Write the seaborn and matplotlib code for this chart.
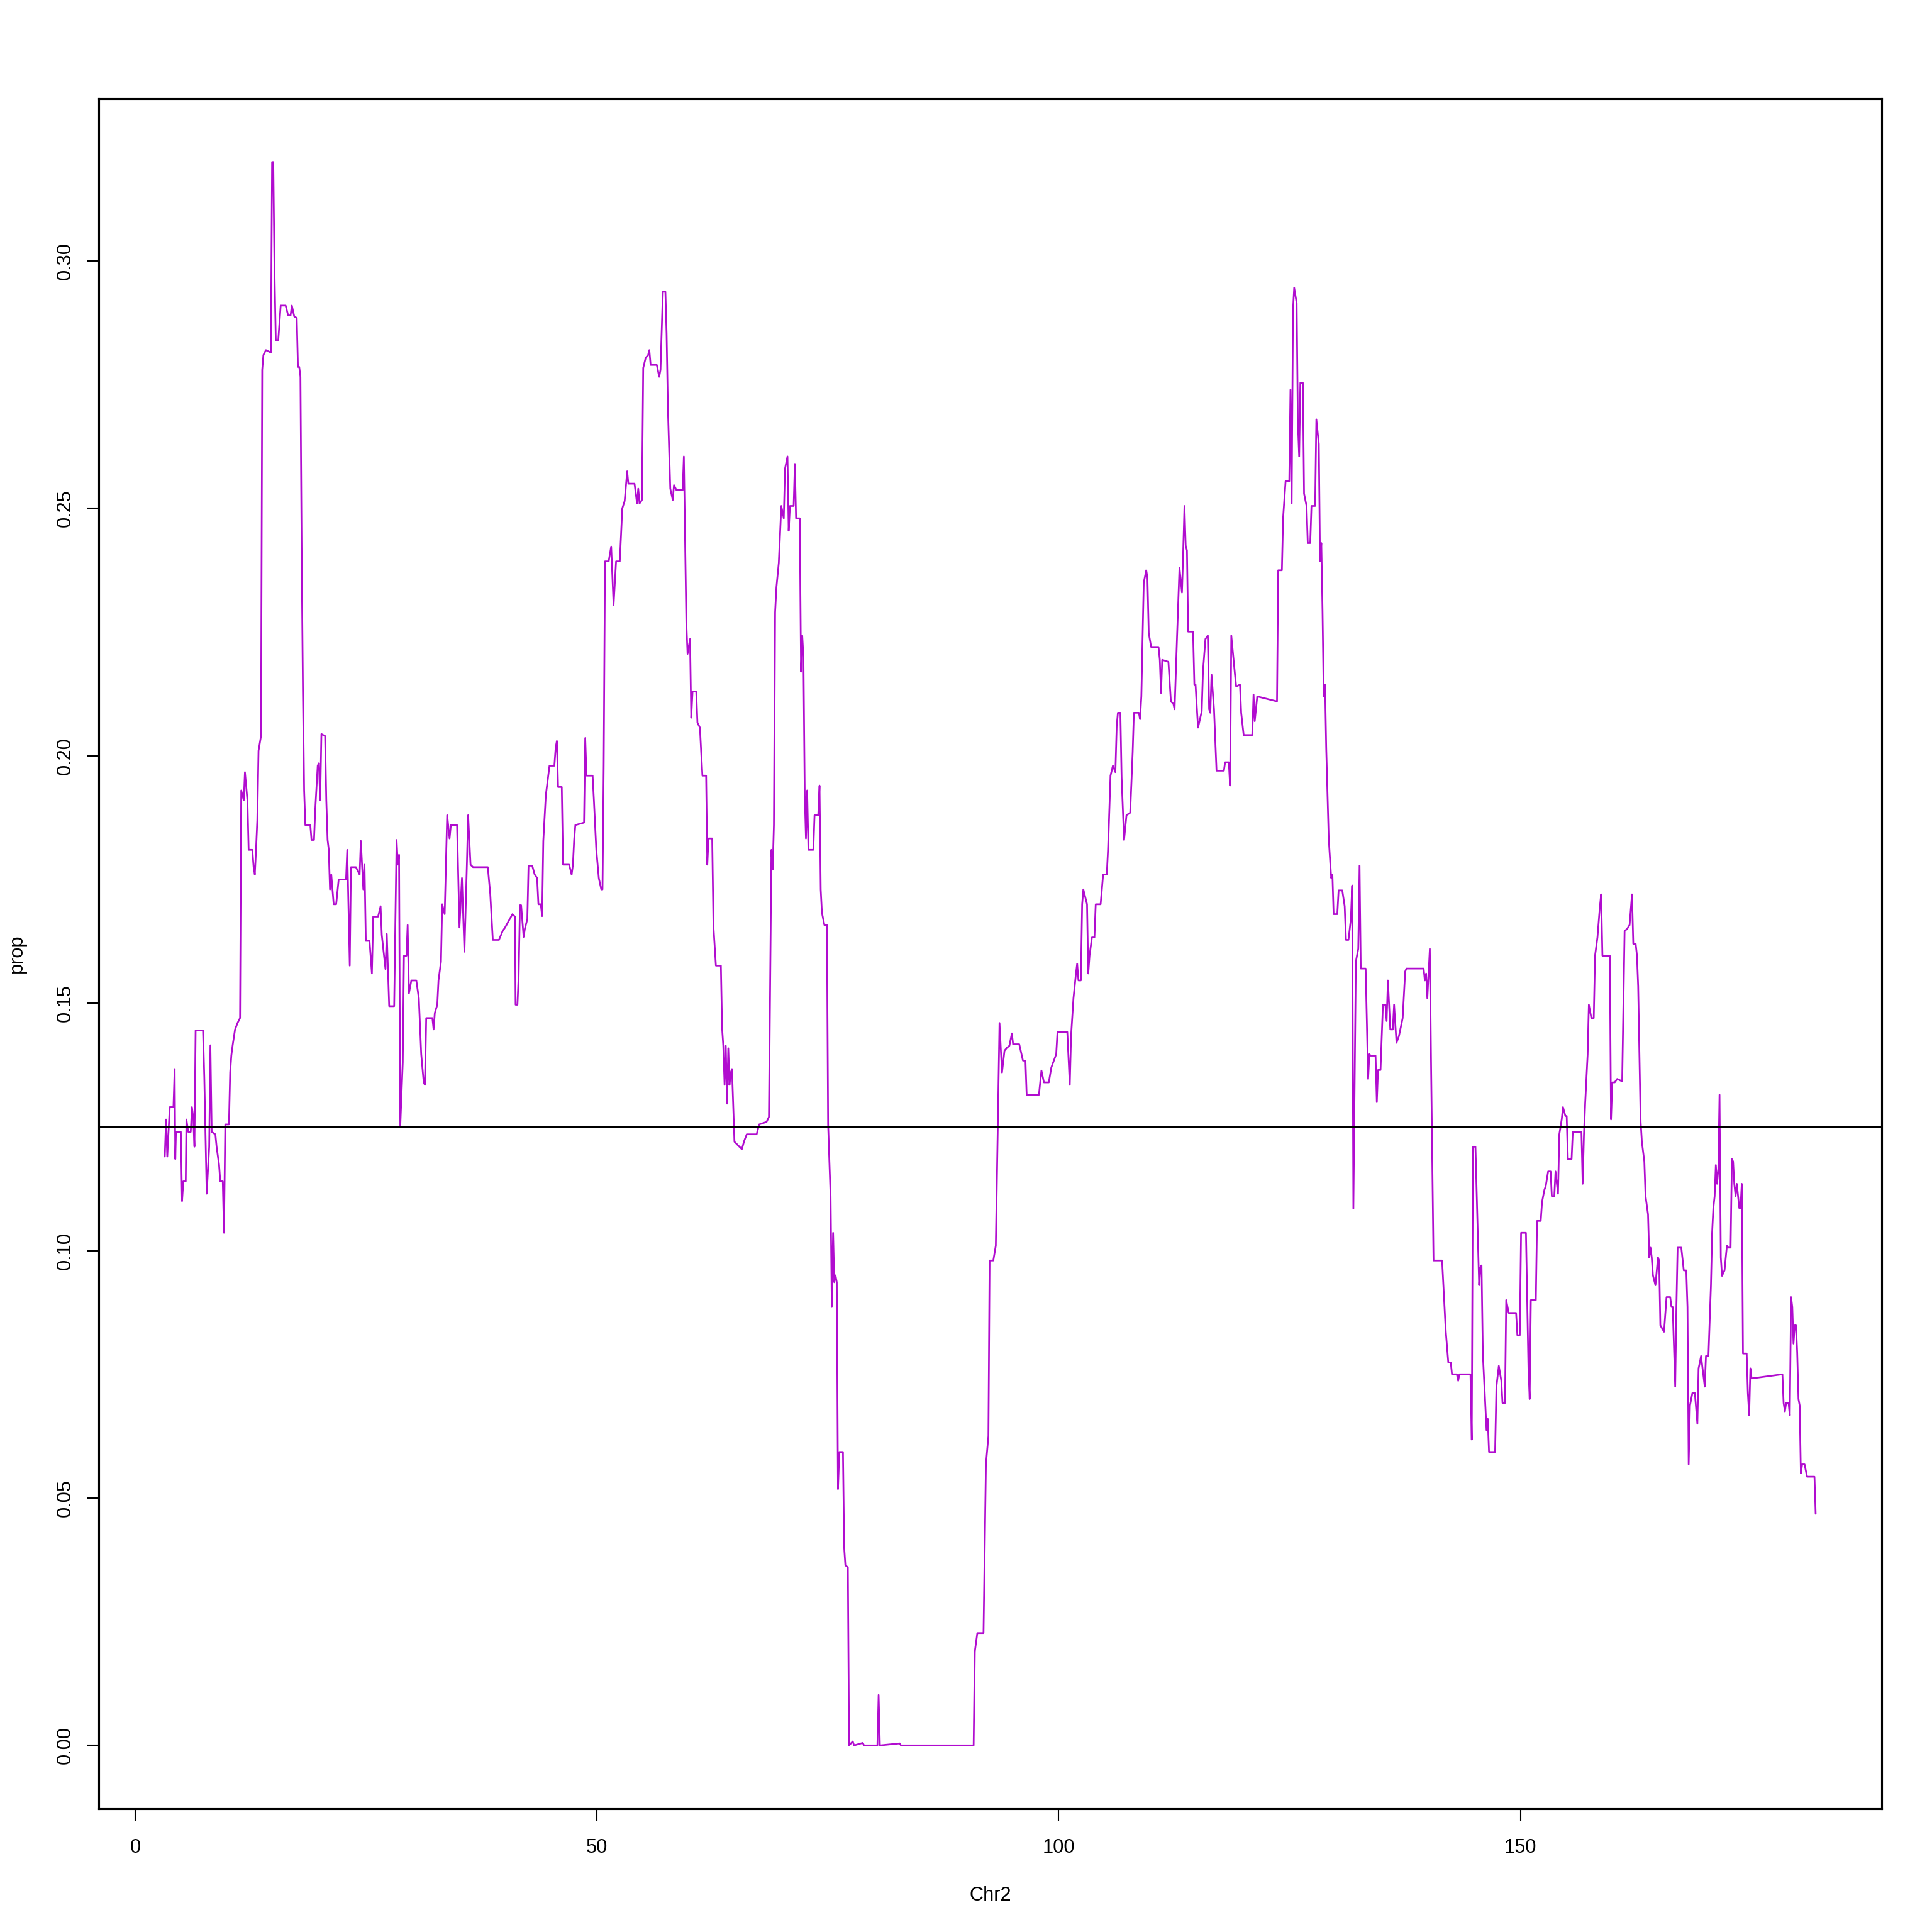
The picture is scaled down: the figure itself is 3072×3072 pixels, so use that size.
import matplotlib
matplotlib.use("Agg")
import matplotlib.pyplot as plt
import seaborn as sns
import pandas as pd

# ---- data: position on Chr2 (Mb) and proportion ----
pos = [
    3.20, 3.34, 3.47, 3.74, 4.14, 4.27, 4.34, 4.41, 4.94, 5.07, 5.21, 5.47, 5.54, 5.74, 6.01, 6.14, 6.28, 6.41, 6.54, 7.34,
    7.48, 7.74, 8.01, 8.14, 8.28, 8.68, 8.81, 9.08, 9.21, 9.48, 9.61, 9.75, 10.15, 10.28, 10.41, 10.55, 10.81, 11.08, 11.35,
    11.48, 11.75, 11.88, 12.15, 12.28, 12.68, 12.82, 12.95, 13.08, 13.22, 13.35, 13.62, 13.75, 13.88, 14.15, 14.69, 14.82,
    14.95, 15.09, 15.22, 15.49, 15.75, 16.29, 16.56, 16.82, 16.96, 17.22, 17.49, 17.62, 17.76, 17.89, 18.02, 18.16, 18.29,
    18.42, 18.96, 19.09, 19.36, 19.49, 19.76, 19.89, 20.03, 20.16, 20.56,
    20.69, 20.83, 20.96, 21.09, 21.23, 21.36, 21.49, 21.76, 22.03, 22.83, 22.96, 23.23, 23.36, 23.90, 24.30, 24.43, 24.70,
    24.83, 24.97, 25.37, 25.63, 25.77, 26.30, 26.57, 26.70, 27.10, 27.24, 27.50, 28.04, 28.30, 28.44, 28.57, 28.70,
    28.97, 29.10, 29.37, 29.50, 29.64, 29.90, 30.44, 30.71, 30.97, 31.24, 31.37, 31.51, 32.18, 32.31, 32.44, 32.71, 32.84,
    33.11, 33.24, 33.51, 33.78, 34.04, 34.18, 34.85, 35.11, 35.38, 35.65, 35.91, 36.05, 36.31, 36.58, 38.18, 38.45, 38.72,
    39.39, 39.79, 40.05, 40.85, 41.12, 41.19, 41.39, 41.52, 41.66, 41.79, 42.06, 42.19, 42.46, 42.59, 42.99, 43.26, 43.52,
    43.66, 43.92, 44.06, 44.19, 44.46, 44.86, 45.39, 45.53, 45.66, 45.79, 46.19, 46.33, 46.99, 47.26, 47.40, 47.53, 47.66,
    48.60, 48.73, 48.87, 49.53, 49.67, 49.93, 50.20, 50.47, 50.60,
    50.73, 50.87, 51.27, 51.54, 51.80, 52.07, 52.47, 52.60, 52.74, 53.00, 53.27, 53.40, 54.07, 54.34, 54.47, 54.61, 54.87,
    55.01, 55.27, 55.54, 55.67, 55.81, 56.48, 56.74, 56.88, 57.14, 57.41, 57.54, 57.68, 57.94, 58.21, 58.34, 58.61, 59.28,
    59.41, 59.55, 59.68, 59.81, 60.08, 60.21, 60.35, 60.75, 60.88, 61.15, 61.42, 61.82, 61.95, 62.08, 62.48, 62.62, 62.88,
    63.42, 63.55, 63.68, 63.82, 63.95, 64.09, 64.22, 64.35, 64.49, 64.62, 64.89, 65.42, 65.69, 65.95, 66.22, 67.29, 67.56,
    68.36, 68.62,
    68.89, 69.03, 69.16, 69.29, 69.43, 69.69, 69.96, 70.23, 70.36, 70.63, 70.76, 70.90, 71.30, 71.43, 71.56, 71.96, 72.10,
    72.23, 72.36, 72.50, 72.63, 72.76, 72.90, 73.43, 73.56, 73.96, 74.10, 74.23, 74.36, 74.63, 74.90, 75.03, 75.30, 75.43,
    75.57, 75.70, 75.83, 75.97, 76.10, 76.24, 76.64, 76.77, 76.90, 77.17, 77.30,
    77.70, 77.84, 78.78, 78.92, 80.37, 80.50, 80.64, 82.78, 82.92, 90.79,
    90.92, 91.19, 91.86, 92.12, 92.39, 92.52, 92.92, 93.19,
    93.59, 93.86, 94.13, 94.39, 94.66, 94.93, 95.06, 95.73, 96.13, 96.40, 96.53, 97.86, 98.13, 98.40, 98.93, 99.20, 99.73,
    99.87, 100.93, 101.20, 101.34, 101.60, 101.87, 102.00, 102.14, 102.40, 102.54, 102.67, 103.07, 103.20, 103.34, 103.60,
    103.87, 104.01, 104.54, 104.81, 105.21, 105.34, 105.61, 105.87, 106.14, 106.28, 106.41, 106.68, 106.81, 107.08, 107.34,
    107.74, 108.01, 108.14, 108.68, 108.81, 108.95, 109.21, 109.48, 109.61, 109.75, 110.01, 110.81, 110.95, 111.08, 111.21,
    111.88, 112.15, 112.42, 112.55, 112.82, 113.08, 113.35, 113.48, 113.62, 113.75, 113.89, 114.02, 114.55, 114.69, 114.82,
    114.95, 115.09, 115.49, 115.62, 115.89, 116.15, 116.29, 116.42, 116.55, 116.82, 117.09, 117.89, 118.02, 118.42, 118.56,
    118.69, 119.09, 119.22, 119.63, 119.76, 120.03, 120.96, 121.10, 121.23, 121.50, 123.64,
    123.77, 124.17, 124.30, 124.57, 124.97, 125.10, 125.23, 125.37, 125.50, 125.77, 125.90, 126.04, 126.17, 126.44, 126.57,
    126.84, 126.97, 127.24, 127.37, 127.77, 127.90, 128.17, 128.30, 128.44, 128.57, 128.70, 128.84, 128.97, 129.24, 129.37,
    129.51, 129.64, 129.77, 130.17, 130.31, 130.71, 130.97, 131.11, 131.38, 131.64, 131.78, 131.91, 132.18, 132.44, 132.58,
    132.71, 133.24, 133.51, 133.64, 133.78, 134.31, 134.45, 134.58, 134.85, 135.11, 135.38, 135.51, 135.65, 135.91, 136.18,
    136.32, 136.58, 136.85, 137.25, 137.52, 137.65, 139.52, 139.65, 139.79, 139.92, 140.19, 140.32, 140.59, 141.52, 141.92,
    142.19, 142.46, 142.59, 143.12, 143.26, 143.39, 144.59,
    144.73, 144.86, 145.13, 145.53, 145.66, 145.79, 145.93, 146.20, 146.33, 146.46, 146.60, 147.26, 147.40, 147.66, 147.93,
    148.06, 148.33, 148.46, 148.73, 149.53, 149.67, 149.93, 150.07, 150.60, 150.87, 151.00, 151.13, 151.67, 151.80, 152.20,
    152.34, 152.60, 152.74, 153.00, 153.27, 153.40, 153.67, 153.80, 154.07, 154.21, 154.47, 154.61, 154.87, 155.01, 155.14,
    155.54, 155.67, 156.61, 156.74, 156.88, 157.01, 157.28, 157.41, 157.68, 157.94, 158.08, 158.34, 158.61, 158.74, 158.88,
    159.68, 159.81, 159.95, 160.21, 160.48, 161.02, 161.28, 161.55, 161.82, 162.08, 162.22, 162.48, 162.62, 162.75, 163.02,
    163.15, 163.42, 163.55, 163.82, 163.95, 164.09, 164.22, 164.35, 164.62, 164.89, 165.02, 165.15, 165.55, 165.82, 166.22,
    166.36, 166.49, 166.76, 166.89, 167.02, 167.42, 167.69, 167.96, 168.09, 168.22, 168.36, 168.62, 168.89, 169.16, 169.29,
    169.43, 169.56, 169.96, 170.09, 170.36, 170.63, 170.76, 170.89, 171.03, 171.16, 171.29, 171.43, 171.56, 171.70, 171.83,
    172.10, 172.36, 172.50, 172.76, 172.90, 173.03, 173.16, 173.30, 173.43, 173.70, 173.83, 173.97, 174.10, 174.50, 174.63,
    174.77, 174.90, 175.03, 175.17, 178.37, 178.50, 178.64, 178.77, 179.04, 179.17, 179.31, 179.44, 179.57, 179.71, 179.84,
    179.97, 180.11, 180.24, 180.37, 180.51, 180.77, 181.04, 181.84, 181.97,
]

prop = [
    0.119, 0.1265, 0.119, 0.129, 0.129, 0.1367, 0.1185, 0.124, 0.124, 0.110, 0.114, 0.114, 0.1265, 0.124, 0.124, 0.129,
    0.127, 0.121, 0.1445, 0.1445,
    0.135, 0.1115, 0.121, 0.1415, 0.124, 0.1235, 0.121, 0.1173, 0.114, 0.114, 0.1036, 0.1255, 0.1255, 0.136, 0.1395, 0.1415,
    0.1447, 0.146, 0.147,
    0.193, 0.191, 0.1967, 0.191, 0.181, 0.181, 0.1775, 0.176, 0.181, 0.187, 0.201, 0.204, 0.278, 0.281, 0.282, 0.2815,
    0.320, 0.320, 0.297, 0.284, 0.284, 0.291, 0.291, 0.289, 0.289, 0.291, 0.2888, 0.2885, 0.2786, 0.2786, 0.2766, 0.2418,
    0.213, 0.193, 0.186, 0.186, 0.183, 0.183, 0.189, 0.198, 0.1985, 0.191, 0.2044, 0.204,
    0.191, 0.183, 0.181, 0.173, 0.176, 0.173, 0.170, 0.170, 0.175, 0.175, 0.181, 0.1576, 0.1775, 0.1775, 0.176, 0.1828,
    0.173, 0.178, 0.1626, 0.1626, 0.156, 0.1675, 0.1675, 0.1696, 0.1638, 0.1569, 0.164, 0.1494, 0.1494, 0.183, 0.178,
    0.180, 0.125,
    0.138, 0.1596, 0.1596, 0.1658, 0.152, 0.1546, 0.1546, 0.151, 0.1397, 0.134, 0.1335, 0.147, 0.147, 0.1447, 0.148,
    0.1497, 0.1546, 0.1584, 0.170, 0.168, 0.188, 0.1833, 0.186, 0.186, 0.1653, 0.1753, 0.1604, 0.1778, 0.188, 0.178,
    0.1775, 0.1775, 0.172, 0.1628, 0.1628, 0.1646, 0.1653, 0.168, 0.1675, 0.1497, 0.1497, 0.1554, 0.1698, 0.1698, 0.1634,
    0.165, 0.167, 0.1778, 0.1778, 0.176, 0.1753, 0.170, 0.170, 0.1676, 0.1828, 0.192, 0.198, 0.198, 0.2017, 0.203, 0.1937,
    0.1937, 0.178, 0.178, 0.176, 0.178, 0.183, 0.186, 0.1865, 0.2036, 0.196, 0.196, 0.191, 0.181, 0.1753, 0.173, 0.173,
    0.198, 0.2393, 0.2393, 0.2423, 0.2305, 0.2393, 0.2393, 0.2443, 0.250, 0.2515, 0.2575, 0.255, 0.255, 0.251, 0.254,
    0.251, 0.2517, 0.2784, 0.2804, 0.281, 0.282, 0.279, 0.279, 0.2766, 0.278, 0.2938, 0.2938, 0.2853, 0.2704, 0.254,
    0.2517, 0.2547, 0.2537, 0.2537, 0.2605, 0.243, 0.2268, 0.2206, 0.2236, 0.2077, 0.213, 0.213, 0.2067, 0.2057, 0.196,
    0.196, 0.178, 0.1833, 0.1833, 0.1653, 0.1576, 0.1576, 0.145, 0.1414, 0.1335, 0.1414, 0.1297, 0.1409, 0.1335, 0.136,
    0.1367, 0.122, 0.121, 0.1205, 0.1222, 0.1235, 0.1235, 0.1255, 0.126, 0.127,
    0.181, 0.177, 0.186, 0.229, 0.234, 0.239, 0.2505, 0.248, 0.258, 0.2605, 0.2455, 0.2505, 0.2505, 0.259, 0.248, 0.248,
    0.217, 0.2243, 0.220, 0.192, 0.1833, 0.193, 0.181, 0.181, 0.188, 0.188, 0.194, 0.173, 0.1683, 0.1658, 0.1658, 0.1255,
    0.111, 0.0886, 0.1036, 0.0936, 0.095, 0.0936, 0.0518, 0.0593, 0.0593, 0.040, 0.0364, 0.036, 0.0,
    0.0008, 0.0, 0.0005, 0.0, 0.0, 0.0102, 0.0, 0.0004, 0.0, 0.0,
    0.019, 0.0227, 0.0227, 0.0568, 0.0625, 0.098, 0.098, 0.101,
    0.146, 0.136, 0.1404, 0.141, 0.1414, 0.1439, 0.1417, 0.1417, 0.1384, 0.1384, 0.1315, 0.1315, 0.1364, 0.134, 0.134,
    0.137, 0.1397, 0.1442, 0.1442, 0.1335, 0.1434, 0.151, 0.156, 0.158, 0.1546, 0.1546, 0.170, 0.173, 0.170, 0.156,
    0.1596, 0.1633, 0.1633, 0.170, 0.170, 0.176, 0.176, 0.181, 0.196, 0.198, 0.1967, 0.206, 0.2087, 0.2087, 0.1957, 0.183,
    0.188, 0.1885, 0.2007, 0.2087, 0.2087, 0.2074, 0.212, 0.235, 0.2375, 0.236, 0.2248, 0.222, 0.222, 0.2194, 0.2127,
    0.2194, 0.219, 0.211, 0.2105, 0.2094, 0.2243, 0.238, 0.233, 0.241, 0.2505, 0.2425, 0.2415, 0.2251, 0.2251, 0.2144,
    0.2144, 0.210, 0.2057, 0.209, 0.217, 0.2236, 0.2243, 0.2094, 0.2087, 0.2164, 0.2094, 0.197, 0.197, 0.1987, 0.1987,
    0.194, 0.2243, 0.2164, 0.214, 0.2144, 0.2087, 0.2042, 0.2042, 0.2124, 0.207, 0.212, 0.211,
    0.2375, 0.2375, 0.248, 0.2555, 0.2555, 0.274, 0.251, 0.290, 0.2946, 0.2915, 0.2672, 0.2605, 0.2754, 0.2754, 0.253,
    0.2505, 0.243, 0.243, 0.2505, 0.2505, 0.268, 0.263, 0.2393, 0.243, 0.2293, 0.212, 0.2144, 0.2015, 0.1833, 0.1795,
    0.1753, 0.176, 0.168, 0.168, 0.1728, 0.1728, 0.1696, 0.1628, 0.1628, 0.167, 0.1738, 0.1085, 0.1584, 0.161, 0.1778,
    0.157, 0.157, 0.1347, 0.1397, 0.1394, 0.1394, 0.130, 0.1365, 0.1365, 0.1497, 0.1497, 0.1464, 0.1546, 0.1447, 0.1447,
    0.1497, 0.142, 0.1434, 0.147, 0.1564, 0.157, 0.157, 0.1546, 0.156, 0.151, 0.161, 0.1384, 0.098, 0.098, 0.0836,
    0.0774, 0.0774, 0.075, 0.075, 0.0737, 0.075, 0.075,
    0.0618, 0.121, 0.121, 0.093, 0.0966, 0.097, 0.0792, 0.0687, 0.0637, 0.066, 0.0593, 0.0593, 0.0725, 0.0767, 0.0737,
    0.0692, 0.0692, 0.090, 0.0874, 0.0874, 0.0829, 0.0829, 0.1036, 0.1036, 0.0762, 0.070, 0.090, 0.090, 0.106, 0.106,
    0.1098, 0.1123, 0.113, 0.116, 0.116, 0.111, 0.111, 0.116, 0.1115, 0.1235, 0.1265, 0.129, 0.1272, 0.1272, 0.1185,
    0.1185, 0.124, 0.124, 0.1135, 0.1235, 0.1297, 0.1397, 0.1497, 0.147, 0.147, 0.1596, 0.1633, 0.1696, 0.172, 0.1596,
    0.1596, 0.1265, 0.134, 0.134, 0.1347, 0.1342, 0.1646, 0.165, 0.1658, 0.172, 0.162, 0.162, 0.1596, 0.1534, 0.126,
    0.122, 0.118, 0.111, 0.1073, 0.0986, 0.1006, 0.0986, 0.095, 0.093, 0.0986, 0.098, 0.0849, 0.0836, 0.0906, 0.0906,
    0.0886, 0.0886, 0.0725, 0.0886, 0.1006, 0.1006, 0.096, 0.096, 0.0886, 0.0568, 0.0687, 0.0712, 0.0712, 0.065, 0.0762,
    0.0774, 0.0787, 0.0725, 0.0787, 0.0787, 0.093, 0.1036, 0.1086, 0.111, 0.1173, 0.1135, 0.1165, 0.1315, 0.0986, 0.0949,
    0.096, 0.101, 0.1006, 0.1006, 0.1185, 0.118, 0.1135, 0.111, 0.1135, 0.1086, 0.1086, 0.1135, 0.0792, 0.0792, 0.0712,
    0.0667, 0.0762, 0.0742, 0.0742, 0.075, 0.0692, 0.0675, 0.0692, 0.0692, 0.0667, 0.0906, 0.0886, 0.0812, 0.0849, 0.0849,
    0.0795, 0.070, 0.0687, 0.055, 0.0568, 0.0568, 0.0543, 0.0543, 0.0468,
]

ref_level = 0.125
x_ticks = [0, 50, 100, 150]
y_ticks = [0.00, 0.05, 0.10, 0.15, 0.20, 0.25, 0.30]
y_tick_labels = ["0.00", "0.05", "0.10", "0.15", "0.20", "0.25", "0.30"]
x_title = "Chr2"
y_title = "prop"
line_color = "#B10CCF"

df = pd.DataFrame({"pos": pos, "prop": prop})

sns.set_theme(style="white")
plt.rcParams["font.family"] = ["Liberation Sans", "DejaVu Sans"]
FS = 7.4

fig = plt.figure(figsize=(10.24, 10.24), dpi=300)
ax = fig.add_axes([157 / 3072, 1 - 2876 / 3072, (2992 - 157) / 3072, (2876 - 157) / 3072])

sns.lineplot(data=df, x="pos", y="prop", sort=False, estimator=None,
             color=line_color, linewidth=0.65, ax=ax)
ax.axhline(ref_level, color="black", linewidth=0.5)

# R-style 4% padding
xmin, xmax = min(pos), max(pos)
ymin, ymax = min(prop), max(prop)
dx = 0.04 * (xmax - xmin)
dy = 0.04 * (ymax - ymin)
ax.set_xlim(xmin - dx, xmax + dx)
ax.set_ylim(ymin - dy, ymax + dy)

ax.set_xticks(x_ticks)
ax.set_xticklabels([str(t) for t in x_ticks])
ax.set_yticks(y_ticks)
ax.set_yticklabels(y_tick_labels)
ax.set_xlabel("")
ax.set_ylabel("")

for s in ax.spines.values():
    s.set_visible(True)
    s.set_color("black")
    s.set_linewidth(0.75)

ax.tick_params(axis="both", which="major", direction="out", length=4.6, width=0.5,
               color="black", labelsize=FS, labelcolor="black", bottom=True, left=True)
ax.tick_params(axis="x", pad=6.6)
ax.tick_params(axis="y", pad=4.6)
for lab in ax.get_yticklabels():
    lab.set_rotation(90)
    lab.set_va("center")
    lab.set_ha("right")
ax.grid(False)

fig.text(0.5 * (157 + 2992) / 3072, 1 - 3022 / 3072, x_title, ha="center", va="baseline",
         fontsize=FS, color="black")
fig.text(27 / 3072, 1 - 1516 / 3072, y_title, ha="center", va="center", rotation=90,
         fontsize=FS, color="black")

fig.savefig("out.png", dpi=300, facecolor="white")
